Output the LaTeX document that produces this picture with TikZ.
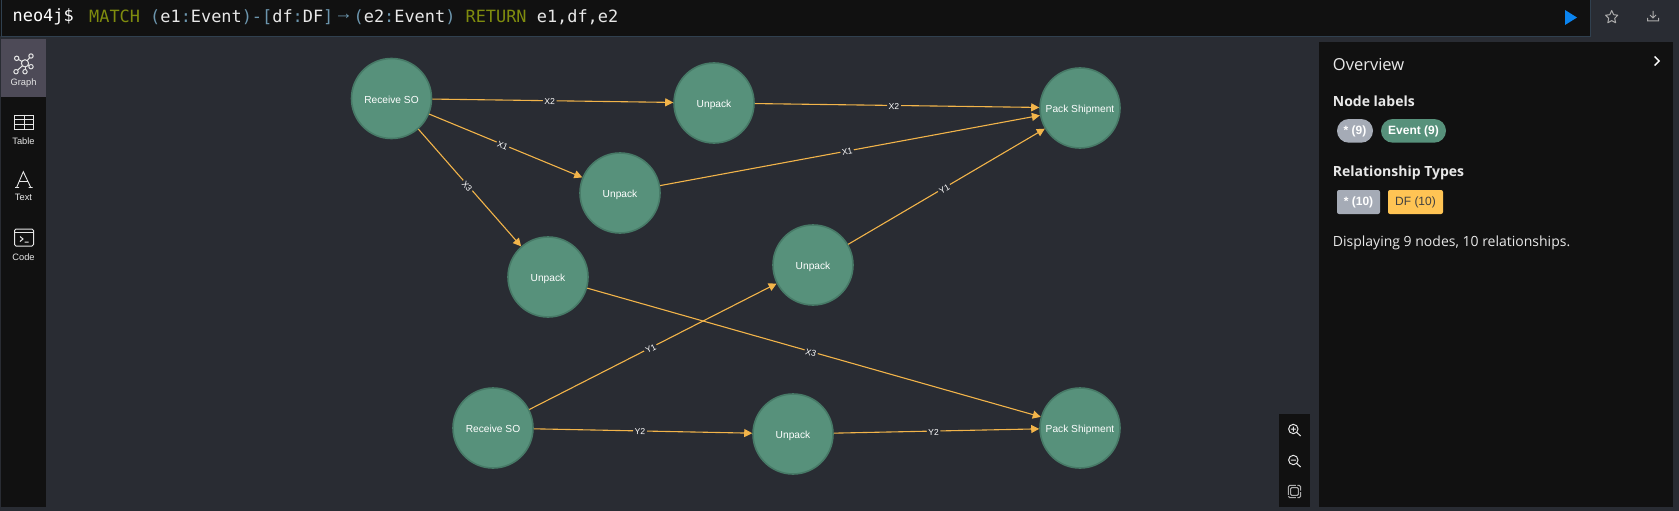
\documentclass[tikz,border=0pt]{standalone}
\usepackage{fontspec}
\setmainfont{Liberation Sans}
\newfontfamily\uifont{Open Sans}
\newfontfamily\codefont{DejaVu Sans Mono}
\usetikzlibrary{arrows.meta}
\definecolor{bgc}{HTML}{292C33}
\definecolor{panelc}{HTML}{111111}
\definecolor{tilec}{HTML}{4D4A57}
\definecolor{nodefill}{HTML}{57917B}
\definecolor{nodeline}{HTML}{477A67}
\definecolor{edgec}{HTML}{F2B44A}
\definecolor{kwc}{HTML}{7F8C0E}
\definecolor{brc}{HTML}{6C96AE}
\definecolor{txtc}{HTML}{E8E8E8}
\definecolor{iconc}{HTML}{E6E6E6}
\definecolor{badgegray}{HTML}{A5ABB6}
\definecolor{badgeyel}{HTML}{FFC454}
\definecolor{linec}{HTML}{30404F}
\definecolor{playc}{HTML}{0A84F0}
\tikzset{
  evnode/.style={circle,draw=nodeline,fill=nodefill,line width=1.6pt,minimum size=80pt,inner sep=0pt,text=white,font=\fontsize{10.2pt}{12pt}\selectfont},
  rel/.style={draw=edgec,line width=1.1pt,-{Triangle[length=8pt,width=8pt]}},
  rellabel/.style={midway,sloped,fill=bgc,text=white,inner sep=1.5pt,xshift=-3pt,yshift=-1pt,font=\fontsize{8.6pt}{10pt}\selectfont},
  sidelabel/.style={text=iconc,inner sep=0pt,font=\fontsize{9.3pt}{11pt}\selectfont},
  icon/.style={draw=iconc,line width=1pt},
  grayicon/.style={draw=iconc!75!black,line width=1pt},
  heading/.style={anchor=west,text=txtc,inner sep=0pt},
  pill/.style={anchor=center,inner sep=0pt,text=white,font=\fontsize{12pt}{14pt}\selectfont\bfseries},
}
\begin{document}
\begin{tikzpicture}[x=1pt,y=-1pt]
\useasboundingbox (0,0) rectangle (1679,511);
\fill[bgc] (0,0) rectangle (1679,511);
% top bar
\fill[panelc] (0,0) rectangle (1590,36.5);
\draw[linec,line width=1pt] (1,0) -- (1,36.5) -- (1590,36.5) -- (1590,0);
\node[anchor=west,inner sep=0pt,text=white,font=\codefont\fontsize{16.9pt}{20pt}\selectfont] (prompt) at (12.5,17) {neo4j\$};
\node[anchor=west,inner sep=0pt,text=txtc,font=\codefont\fontsize{16.9pt}{20pt}\selectfont] (query) at (89,17) {\textcolor{kwc}{MATCH} \textcolor{brc}{(}e1\textcolor{brc}{:}Event\textcolor{brc}{)-[}df\textcolor{brc}{:}DF\textcolor{brc}{]}\makebox[20.3pt][c]{\raisebox{2.5pt}{\textcolor{brc}{\fontspec{Liberation Sans}\fontsize{18.5pt}{20pt}\selectfont →}}}\textcolor{brc}{(}e2\textcolor{brc}{:}Event\textcolor{brc}{)} \textcolor{kwc}{RETURN} e1,df,e2};
\fill[playc] (1565,10) -- (1577,17.5) -- (1565,25) -- cycle;
% star
\draw[grayicon,line join=round] (1611.7,10.5) -- (1613.6,14.7) -- (1617.8,15.2) -- (1614.7,18.3) -- (1615.6,22.8) -- (1611.7,20.6) -- (1607.8,22.8) -- (1608.7,18.3) -- (1605.6,15.2) -- (1609.8,14.7) -- cycle;
% download
\draw[grayicon] (1653,11) -- (1653,17.5) (1650,15) -- (1653,18) -- (1656,15) (1647.5,18) -- (1647.5,21) -- (1658.5,21) -- (1658.5,18);
% sidebar
\fill[panelc] (1,39) rectangle (46,507);
\fill[tilec] (1,39) rectangle (46,97);
% graph icon
\foreach \a/\b in {16.7/58.3,31/56,31/66.7,25/71.7,16/71.7}{\draw[icon] (25,63.3) -- (\a,\b);\draw[icon,fill=tilec] (\a,\b) circle (2.2);}
\draw[icon,fill=tilec] (25,63.3) circle (3.6);
\node[sidelabel] (graphlbl) at (23.5,83) {Graph};
% table icon
\draw[icon] (14.5,115) rectangle (33.5,129);
\draw[icon] (14.5,119.5) -- (33.5,119.5) (14.5,124.3) -- (33.5,124.3) (24,115) -- (24,129);
\node[sidelabel] (tablelbl) at (23.5,141) {Table};
% text icon
\draw[icon,line width=.9pt] (16.7,187.3) -- (23.3,171.7) -- (30.7,187.3) (19,181.5) -- (28,181.5) (15,187.5) -- (19,187.5) (28.5,187.5) -- (32.5,187.5);
\node[sidelabel] (textlbl) at (23.5,197.5) {Text};
% code icon
\draw[icon,rounded corners=1.5pt] (14.5,229) rectangle (33.5,246);
\draw[icon] (14.5,232.5) -- (33.5,232.5);
\draw[icon] (20,236.5) -- (23,239) -- (20,241.5) (24.5,242) -- (28.5,242);
\node[sidelabel] (codelbl) at (23.5,257) {Code};
% overview panel
\fill[panelc] (1319,42) rectangle (1673,507);
\node[heading,font=\uifont\fontsize{16.5pt}{20pt}\selectfont] (ov) at (1332.7,64.5) {Overview};
\draw[white,line width=1.4pt] (1654.5,56.5) -- (1659,61) -- (1654.5,65.5);
\node[heading,font=\uifont\fontsize{14pt}{18pt}\selectfont\bfseries] (nl) at (1332.7,101) {Node labels};
\fill[badgegray,rounded corners=11.8pt] (1337,119) rectangle (1373,142.7);
\node[pill] (b1) at (1355,131) {* (9)};
\fill[nodefill,rounded corners=11.8pt] (1381,119) rectangle (1446,142.7);
\node[pill] (b2) at (1413.5,131) {Event (9)};
\node[heading,font=\uifont\fontsize{14pt}{18pt}\selectfont\bfseries] (rt) at (1332.7,172.5) {Relationship Types};
\fill[badgegray,rounded corners=2pt] (1337,190) rectangle (1380,214);
\node[pill] (b3) at (1358.5,202) {* (10)};
\fill[badgeyel,rounded corners=2pt] (1388,190) rectangle (1443,214);
\node[pill,text=black!75,font=\fontsize{12pt}{14pt}\selectfont] (b4) at (1415.5,202) {DF (10)};
\node[heading,font=\uifont\fontsize{14pt}{18pt}\selectfont] (disp) at (1332.7,243) {Displaying 9 nodes, 10 relationships.};
% zoom buttons
\fill[panelc] (1279,414) rectangle (1310,507);
\draw[icon] (1293.3,429) circle (4.7);
\draw[icon] (1296.8,432.5) -- (1300.7,436) (1290.8,429) -- (1295.8,429) (1293.3,426.5) -- (1293.3,431.5);
\draw[icon] (1293.3,460) circle (4.7);
\draw[icon] (1296.8,463.5) -- (1300.7,467) (1290.8,460) -- (1295.8,460);
\draw[grayicon,fill=panelc,rounded corners=1pt] (1290.7,487.7) rectangle (1298.3,495.3);
\draw[grayicon,rounded corners=1.5pt,dash pattern=on 8pt off 1.5pt] (1288.3,485.3) rectangle (1300.7,497.7);
% graph nodes
\tikzset{evnode/.append style={text depth=-3pt}}
\node[evnode] (r1) at (391.5,98.5) {\raisebox{-2pt}{Receive SO}};
\node[evnode] (u1) at (714,103) {\raisebox{-2pt}{Unpack}};
\node[evnode] (u2) at (620,193) {\raisebox{-2pt}{Unpack}};
\node[evnode] (p1) at (1080,108) {\raisebox{-2pt}{Pack Shipment}};
\node[evnode] (u3) at (548,277) {\raisebox{-2pt}{Unpack}};
\node[evnode] (u4) at (813,265) {\raisebox{-2pt}{Unpack}};
\node[evnode] (r2) at (493,428) {\raisebox{-2pt}{Receive SO}};
\node[evnode] (u5) at (793,434) {\raisebox{-2pt}{Unpack}};
\node[evnode] (p2) at (1080,428) {\raisebox{-2pt}{Pack Shipment}};
% connectors
\draw[rel] (r1) -- node[rellabel] {X2} (u1);
\draw[rel] (u1) -- node[rellabel] {X2} (p1);
\draw[rel] (r1) -- node[rellabel] {X1} (u2);
\draw[rel] (u2) -- node[rellabel] {X1} (p1);
\draw[rel] (r1) -- node[rellabel] {X3} (u3);
\draw[rel] (u3) -- node[rellabel] {X3} (p2);
\draw[rel] (r2) -- node[rellabel] {Y1} (u4);
\draw[rel] (u4) -- node[rellabel] {Y1} (p1);
\draw[rel] (r2) -- node[rellabel] {Y2} (u5);
\draw[rel] (u5) -- node[rellabel] {Y2} (p2);
\end{tikzpicture}
\end{document}
